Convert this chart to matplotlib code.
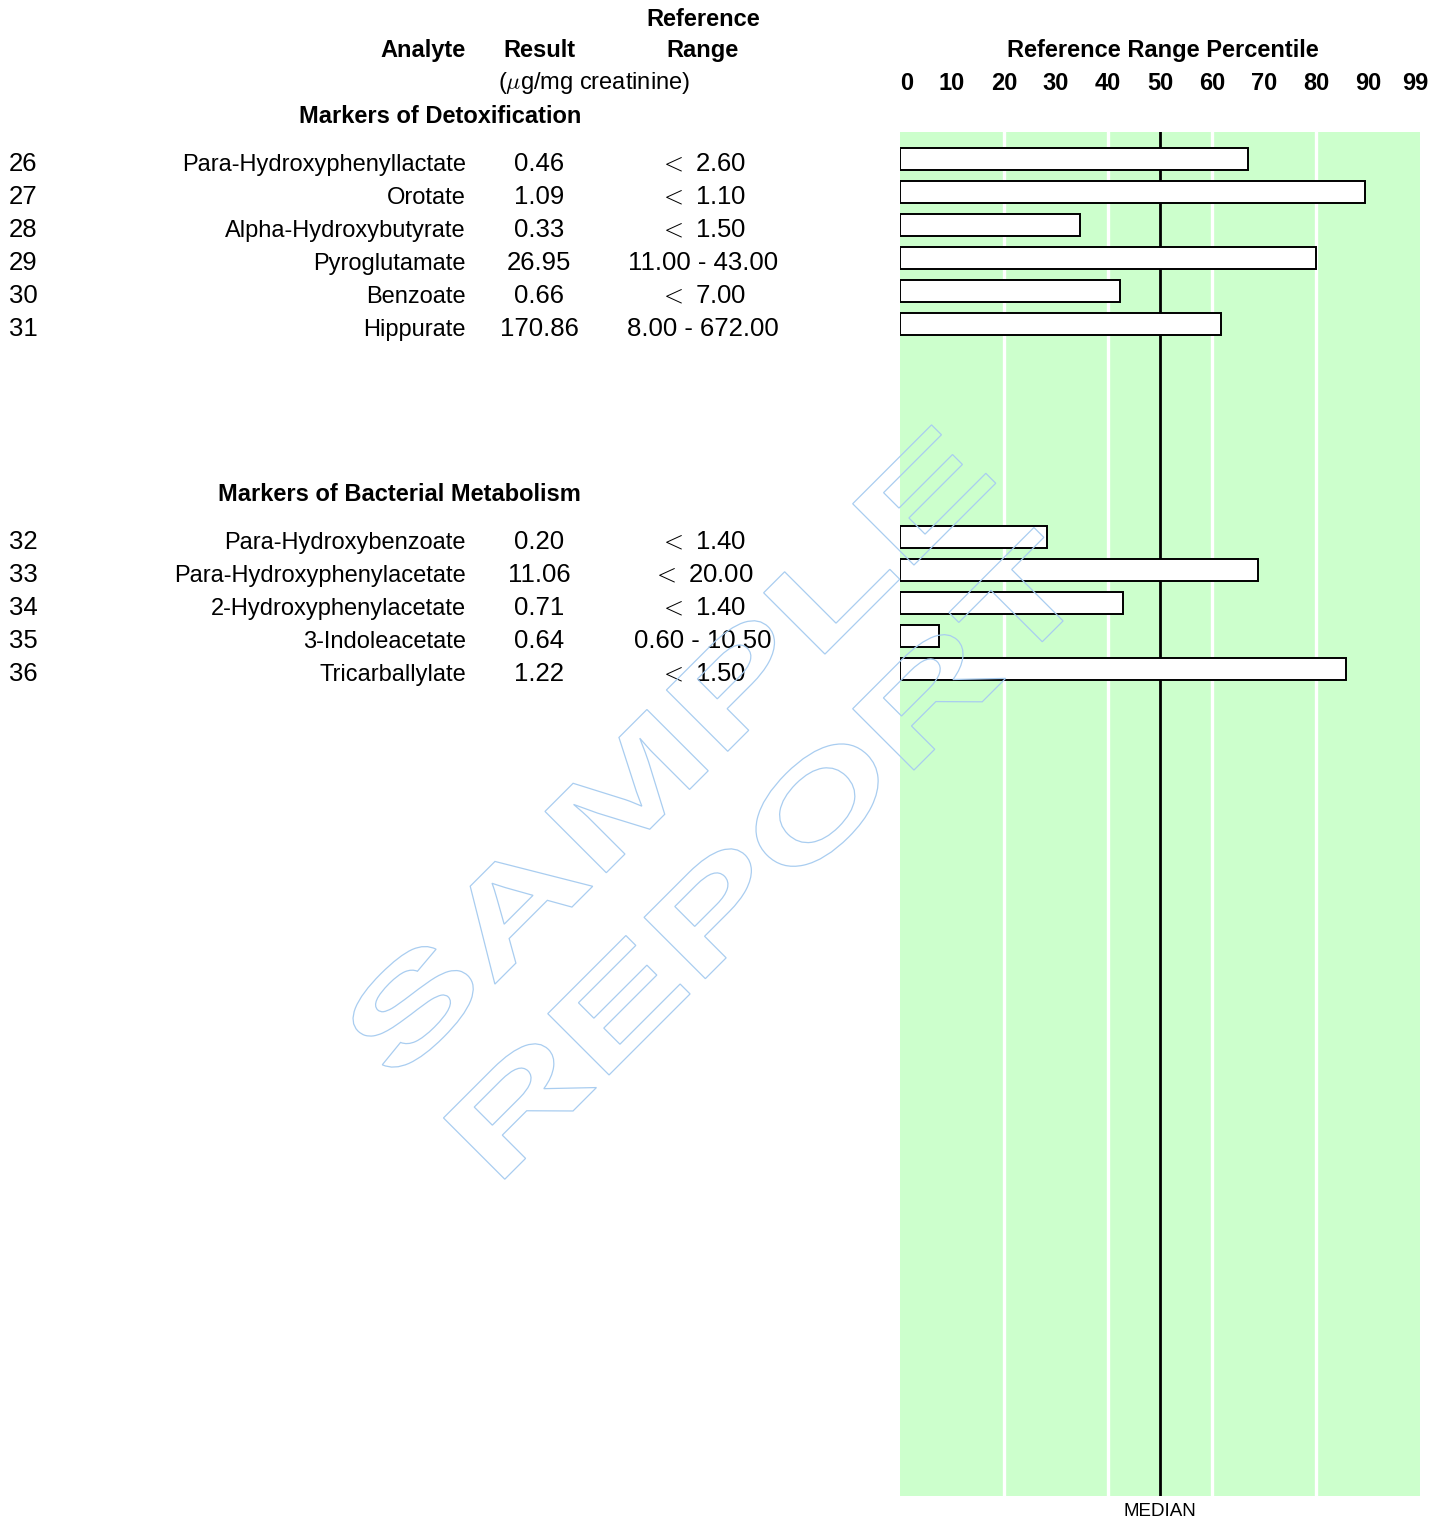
import matplotlib
matplotlib.use('Agg')
import matplotlib.pyplot as plt
from matplotlib.transforms import Affine2D, blended_transform_factory, IdentityTransform
from matplotlib.textpath import TextPath
from matplotlib.patches import PathPatch
from matplotlib.font_manager import FontProperties

plt.rcParams['font.family'] = ['Liberation Sans', 'DejaVu Sans']
plt.rcParams['mathtext.fontset'] = 'cm'

# ---------------- data ----------------
section_titles = ['Markers of Detoxification', 'Markers of Bacterial Metabolism']

detox_ids = ['26', '27', '28', '29', '30', '31']
detox_names = ['Para-Hydroxyphenyllactate', 'Orotate', 'Alpha-Hydroxybutyrate',
               'Pyroglutamate', 'Benzoate', 'Hippurate']
detox_results = ['0.46', '1.09', '0.33', '26.95', '0.66', '170.86']
detox_ranges = ['$<$ 2.60', '$<$ 1.10', '$<$ 1.50', '11.00 - 43.00', '$<$ 7.00', '8.00 - 672.00']
detox_pct = [67.0, 89.5, 34.6, 80.0, 42.3, 61.7]

bact_ids = ['32', '33', '34', '35', '36']
bact_names = ['Para-Hydroxybenzoate', 'Para-Hydroxyphenylacetate', '2-Hydroxyphenylacetate',
              '3-Indoleacetate', 'Tricarballylate']
bact_results = ['0.20', '11.06', '0.71', '0.64', '1.22']
bact_ranges = ['$<$ 1.40', '$<$ 20.00', '$<$ 1.40', '0.60 - 10.50', '$<$ 1.50']
bact_pct = [28.3, 68.8, 42.8, 7.5, 85.8]

tick_vals = [0, 10, 20, 30, 40, 50, 60, 70, 80, 90, 99]
tick_labels = ['0', '10', '20', '30', '40', '50', '60', '70', '80', '90', '99']
band_edges = [20, 40, 60, 80]
median_pct = 50

# ---------------- layout ----------------
W, H = 1448, 1520
fig = plt.figure(figsize=(W / 100, H / 100), dpi=100)
px = Affine2D().scale(1 / W, -1 / H).translate(0, 1) + fig.transFigure

ax_left, ax_right, ax_top, ax_bot = 900, 1420, 132, 1496
ax = fig.add_axes([ax_left / W, (H - ax_bot) / H, (ax_right - ax_left) / W, (ax_bot - ax_top) / H])
row_h = 33.0
ax.set_xlim(0, 100)
ax.set_ylim((ax_bot - ax_top) / row_h, 0)
ax.set_facecolor('#ccffcc')
for s in ax.spines.values():
    s.set_visible(False)
ax.set_xticks([])
ax.set_yticks([])

for e in band_edges:
    ax.axvline(e, color='white', lw=2.4, zorder=1)
ax.axvline(median_pct, color='black', lw=2.0, zorder=2)

group_start = [0.82, 12.27]
groups = [
    (detox_ids, detox_names, detox_results, detox_ranges, detox_pct),
    (bact_ids, bact_names, bact_results, bact_ranges, bact_pct),
]

fs = 17
fs_num = 18.5
rowtr = blended_transform_factory(px, ax.transData)
for g, (ids, names, results, ranges, pcts) in enumerate(groups):
    ys = [group_start[g] + i for i in range(len(ids))]
    ax.barh(ys, pcts, height=0.667, left=0, color='white', edgecolor='black',
            linewidth=1.4, zorder=3)
    for y, i_, n_, r_, rg_ in zip(ys, ids, names, results, ranges):
        yb = y + 0.36
        fig.text(9, yb, i_, transform=rowtr, fontsize=fs_num, ha='left', va='baseline')
        fig.text(466, yb, n_, transform=rowtr, fontsize=fs, ha='right', va='baseline')
        fig.text(539, yb, r_, transform=rowtr, fontsize=fs_num, ha='center', va='baseline')
        fig.text(703, yb, rg_, transform=rowtr, fontsize=fs_num, ha='center', va='baseline')
    fig.text(581, group_start[g] - 1.0 - 0.1, section_titles[g], transform=rowtr,
             fontsize=fs, fontweight='bold', ha='right', va='baseline')

# headers
fig.text(703, 26, 'Reference', transform=px, fontsize=fs, fontweight='bold', ha='center', va='baseline')
fig.text(466, 57, 'Analyte', transform=px, fontsize=fs, fontweight='bold', ha='right', va='baseline')
fig.text(539, 57, 'Result', transform=px, fontsize=fs, fontweight='bold', ha='center', va='baseline')
fig.text(703, 57, 'Range', transform=px, fontsize=fs, fontweight='bold', ha='center', va='baseline')
fig.text(594, 89, r'($\mu$g/mg creatinine)', transform=px, fontsize=fs, ha='center', va='baseline')

tick_tr = blended_transform_factory(ax.transData, px)
ax.text(0.505, 57, 'Reference Range Percentile', transform=blended_transform_factory(ax.transAxes, px),
        fontsize=fs, fontweight='bold', ha='center', va='baseline')
for v, lab in zip(tick_vals, tick_labels):
    ax.text(v, 90, lab, transform=tick_tr, fontsize=fs, fontweight='bold',
            ha='left' if v == 0 else 'center', va='baseline')
ax.text(median_pct, 1516, 'MEDIAN', transform=tick_tr, fontsize=13.5, ha='center', va='baseline',
        clip_on=False)

# watermark (outlined, rotated text)
fp = FontProperties(family='Liberation Sans', weight='bold')
wm_color = '#a9cdf0'
for word, (cx, cy), target_len in [('SAMPLE', (697, 782), 845), ('REPORT', (800, 884), 835)]:
    tp = TextPath((0, 0), word, size=126, prop=fp)
    ext = tp.get_extents()
    sx = target_len / ext.width
    tr = (Affine2D().translate(-(ext.x0 + ext.x1) / 2, 0).scale(sx, 1).rotate_deg(45)
          .translate(cx, H - cy))
    patch = PathPatch(tr.transform_path(tp), facecolor='none', edgecolor=wm_color,
                      lw=0.9, transform=IdentityTransform(), zorder=10)
    fig.patches.append(patch)
    patch.set_figure(fig)

fig.savefig('out.png', dpi=100)
